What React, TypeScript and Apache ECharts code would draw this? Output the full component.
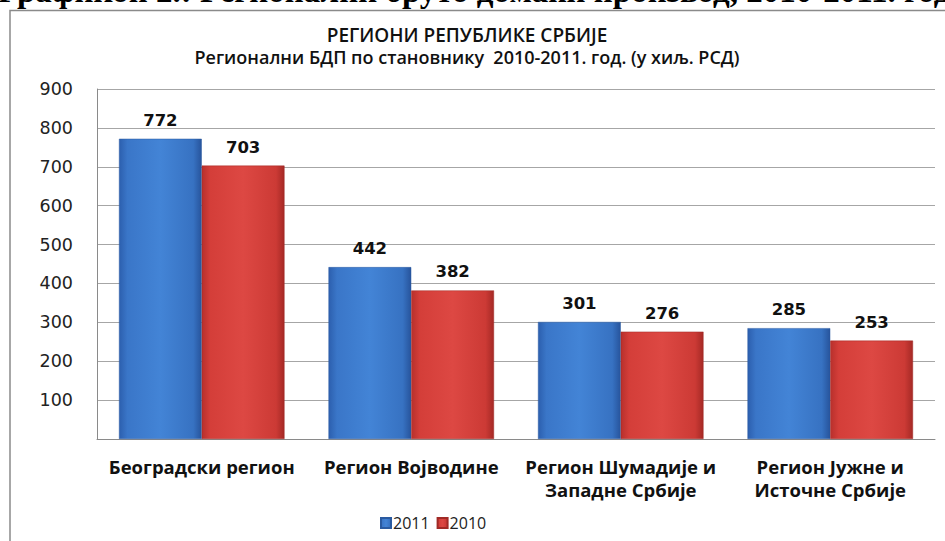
import React, { useEffect, useRef } from "react";
import * as echarts from "echarts";

const categories = [
  "Београдски регион",
  "Регион Војводине",
  "Регион Шумадије и\nЗападне Србије",
  "Регион Јужне и\nИсточне Србије",
];
const values2011 = [772, 442, 301, 285];
const values2010 = [703, 382, 276, 253];
const seriesNames = ["2011", "2010"];
const headerText = "Графикон 2.: Регионални бруто домаћи производ, 2010-2011. год";
const titleText = "РЕГИОНИ РЕПУБЛИКЕ СРБИЈЕ";
const subtitleText = "Регионални БДП по становнику  2010-2011. год. (у хиљ. РСД)";

const blueGrad = () =>
  new echarts.graphic.LinearGradient(0, 0, 1, 0, [
    { offset: 0, color: "#2c5fae" },
    { offset: 0.1, color: "#3a76c8" },
    { offset: 0.5, color: "#4384d6" },
    { offset: 0.9, color: "#3772c2" },
    { offset: 1, color: "#27549c" },
  ]);
const redGrad = () =>
  new echarts.graphic.LinearGradient(0, 0, 1, 0, [
    { offset: 0, color: "#b8302c" },
    { offset: 0.1, color: "#d43e39" },
    { offset: 0.5, color: "#dd4843" },
    { offset: 0.9, color: "#cc3a35" },
    { offset: 1, color: "#a52925" },
  ]);

export default function App() {
  const ref = useRef<HTMLDivElement>(null);
  useEffect(() => {
    document.body.style.margin = "0";
    const chart = echarts.init(ref.current!, null, { renderer: "svg" });
    const labelStyle = {
      show: true,
      position: "top" as const,
      distance: 10,
      fontFamily: "DejaVu Sans",
      fontWeight: "bold" as const,
      fontSize: 16.5,
      color: "#111",
    };
    chart.setOption({
      animation: false,
      backgroundColor: "#fff",
      graphic: [
        {
          type: "rect",
          shape: { x: 10, y: 10.5, width: 1000, height: 600 },
          style: { fill: "none", stroke: "#8a8a8a", lineWidth: 1.5 },
          z: 10,
        },
        {
          type: "text",
          x: -2,
          y: 7,
          style: {
            text: headerText,
            fontFamily: "Liberation Serif",
            fontWeight: "bold",
            fontSize: 33,
            fill: "#000",
            verticalAlign: "bottom",
            align: "left",
          },
        },
      ],
      title: [
        {
          text: titleText,
          left: 462,
          top: 20,
          textAlign: "center",
          textStyle: {
            fontFamily: "Open Sans",
            fontWeight: 600,
            fontSize: 19,
            color: "#111",
          },
        },
        {
          text: subtitleText,
          left: 462,
          top: 43,
          textAlign: "center",
          textStyle: {
            fontFamily: "Open Sans",
            fontWeight: 600,
            fontSize: 18,
            color: "#111",
          },
        },
      ],
      legend: {
        data: seriesNames,
        left: 375,
        top: 510,
        itemWidth: 10,
        itemHeight: 10,
        itemGap: 7,
        icon: "rect",
        textStyle: { fontFamily: "Open Sans", fontSize: 16, color: "#222", padding: [0, 0, 0, -3] },
      },
      grid: { left: 97, right: 10, top: 89, bottom: 102 },
      xAxis: {
        type: "category",
        data: categories,
        axisLine: { show: true, lineStyle: { color: "#8a8a8a", width: 1 } },
        axisTick: { show: false },
        axisLabel: {
          interval: 0,
          margin: 16,
          fontFamily: "Open Sans",
          fontWeight: "bold",
          fontSize: 18.5,
          lineHeight: 23,
          color: "#111",
        },
      },
      yAxis: {
        type: "value",
        min: 0,
        max: 900,
        interval: 100,
        axisLine: { show: true, lineStyle: { color: "#8a8a8a", width: 1 } },
        axisTick: { show: false },
        splitLine: { lineStyle: { color: "#a6a6a6", width: 1 } },
        axisLabel: {
          margin: 24,
          fontFamily: "DejaVu Sans",
          fontSize: 17.5,
          color: "#222",
          formatter: (v: number) => (v === 0 ? "" : String(v)),
        },
      },
      series: [
        {
          name: seriesNames[0],
          type: "bar",
          data: values2011,
          barGap: "0%",
          barCategoryGap: "21%",
          itemStyle: { color: blueGrad(), borderColor: "#2a5aa0", borderWidth: 0.5 },
          label: labelStyle,
        },
        {
          name: seriesNames[1],
          type: "bar",
          data: values2010,
          barGap: "0%",
          barCategoryGap: "21%",
          itemStyle: { color: redGrad(), borderColor: "#a02a26", borderWidth: 0.5 },
          label: labelStyle,
        },
      ],
    });
    return () => chart.dispose();
  }, []);
  return (
    <div
      ref={ref}
      style={{ position: "fixed", left: 0, top: 0, width: 945, height: 541 }}
    />
  );
}
